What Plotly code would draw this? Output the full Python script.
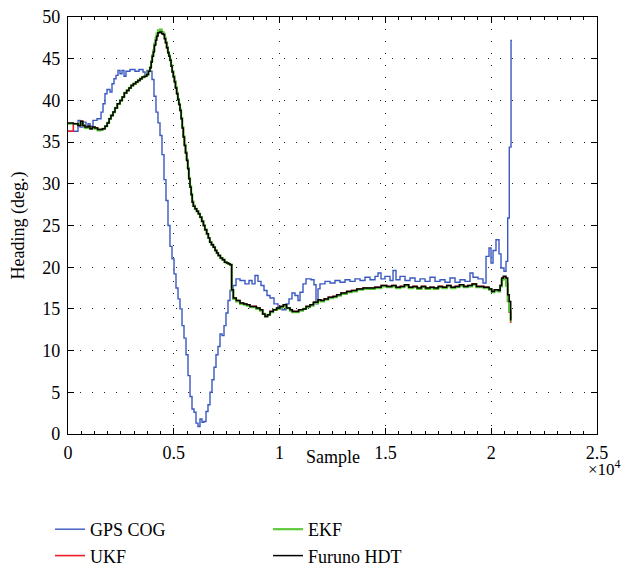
import plotly.graph_objects as go

# ---------------- data ----------------
gps_samples = [0, 473, 567, 709, 851, 945, 1040, 1182, 1371, 1560, 1654, 1749, 1843, 1985, 2080, 2174,
               2268, 2363, 2457, 2552, 2647, 2741, 2930, 3166, 3355, 3545, 3639, 3734, 3875, 3970, 4064,
               4159, 4253, 4348, 4442, 4537, 4631, 4726, 4820, 4915, 5010, 5104, 5199, 5293, 5388, 5482,
               5577, 5671, 5766, 5860, 5955, 6049, 6144, 6238, 6333, 6427, 6522, 6616, 6711, 6805, 6900,
               6994, 7089, 7184, 7278, 7373, 7467, 7562, 7656, 7798, 7940, 8129, 8365, 8554, 8696, 8838,
               8979, 9121, 9263, 9405, 9547, 9736, 9925, 10114, 10303, 10444, 10586, 10728, 10870, 10964,
               11106, 11248, 11484, 11626, 11720, 11815, 11909, 12146, 12382, 12618, 12855, 13091, 13327,
               13564, 13800, 14036, 14273, 14509, 14651, 14792, 14981, 15218, 15360, 15501, 15690, 15927,
               16163, 16400, 16636, 16872, 17108, 17345, 17581, 17817, 18053, 18290, 18526, 18762, 18999,
               19140, 19377, 19613, 19755, 19897, 19991, 20086, 20227, 20369, 20464, 20605, 20700, 20780,
               20855, 20937, 20983]
gps_cog = [36.3, 37.6, 36.8, 37.4, 36.7, 37.2, 36.9, 37.6, 37.8, 38.6, 39.6, 40.8, 41.3, 41.0, 42.0, 42.6,
           43.0, 43.6, 43.2, 43.6, 42.9, 43.5, 43.7, 43.5, 43.7, 43.4, 43.0, 43.6, 43.5, 42.5, 40.5,
           38.6, 37.3, 35.8, 33.5, 30.5, 28.0, 25.0, 22.5, 21.0, 19.2, 17.5, 16.2, 15.0, 13.0, 11.5,
           9.5, 7.0, 4.5, 3.0, 2.6, 1.3, 0.9, 1.8, 1.4, 1.5, 2.7, 3.5, 5.0, 6.5, 8.0,
           9.5, 10.5, 12.0, 11.8, 13.0, 14.5, 16.0, 17.2, 17.8, 18.6, 18.4, 18.0, 18.4, 18.0, 19.0,
           18.3, 17.8, 17.2, 16.6, 16.3, 15.6, 15.2, 14.9, 15.6, 16.2, 16.9, 16.6, 16.0, 17.0,
           18.0, 18.6, 18.5, 17.9, 15.6, 17.4, 18.0, 18.3, 18.1, 18.4, 18.2, 18.5, 18.3,
           18.6, 18.4, 18.8, 18.5, 18.9, 19.3, 18.6, 18.9, 18.4, 19.6, 18.5, 18.9, 18.4,
           18.7, 18.3, 18.6, 18.3, 18.8, 18.3, 18.5, 18.2, 18.7, 18.2, 18.5, 18.3, 19.3,
           18.8, 18.6, 18.1, 21.3, 22.3, 20.5, 22.0, 23.3, 21.6, 19.9, 19.5, 20.7, 25.9,
           34.4, 47.2, 47.2]

filt_samples = [0, 250, 473, 600, 700, 803, 950, 1040, 1150, 1276, 1400, 1512, 1630, 1749, 1850, 1940,
                2030, 2127, 2220, 2330, 2457, 2560, 2660, 2773, 2880, 2980, 3088, 3200, 3300, 3403, 3500,
                3618, 3718, 3800, 3875, 3930, 3980, 4033, 4080, 4140, 4190, 4250, 4348, 4430, 4505, 4560,
                4610, 4663, 4720, 4770, 4820, 4870, 4920, 4978, 5030, 5080, 5136, 5190, 5240, 5293, 5345,
                5400, 5450, 5500, 5555, 5608, 5660, 5710, 5766, 5820, 5870, 5923, 6000, 6080, 6160, 6238,
                6320, 6400, 6470, 6553, 6630, 6700, 6780, 6868, 6950, 7026, 7100, 7200, 7300, 7400, 7498,
                7580, 7656, 7735, 7813, 7950, 8129, 8300, 8450, 8600, 8757, 8900, 9074, 9200, 9310, 9430,
                9547, 9700, 9863, 10020, 10177, 10330, 10492, 10600, 10728, 10900, 11106, 11250, 11437,
                11600, 11815, 11950, 12100, 12300, 12524, 12700, 12900, 13171, 13400, 13650, 13942, 14200,
                14500, 14800, 15062, 15300, 15500, 15700, 15900, 16100, 16300, 16500, 16700, 16900, 17100,
                17300, 17500, 17700, 17900, 18100, 18300, 18500, 18700, 18900, 19100, 19300, 19471, 19650,
                19787, 19900, 20024, 20150, 20336, 20420, 20496, 20572, 20700, 20780, 20850, 20922, 20950]

furuno_hdt = [37.3, 37.2, 37.0, 37.5, 37.0, 36.8, 36.9, 36.6, 36.8, 36.7, 36.5, 36.5, 36.6, 36.9, 37.3, 37.8,
              38.2, 38.6, 39.1, 39.6, 40.0, 40.4, 40.9, 41.2, 41.5, 41.8, 42.0, 42.2, 42.4, 42.6, 42.8,
              42.9, 43.1, 43.5, 43.9, 44.6, 45.3, 45.8, 46.6, 47.2, 47.7, 48.1, 48.2, 48.0, 47.9, 47.4,
              46.9, 46.3, 45.7, 45.3, 44.8, 44.1, 43.4, 42.8, 42.2, 41.5, 40.8, 40.1, 39.5, 38.8, 37.8,
              36.7, 35.6, 34.6, 33.7, 32.8, 31.8, 30.6, 29.6, 28.7, 27.8, 27.3, 27.0, 26.7, 26.4, 26.0,
              25.5, 25.0, 24.5, 24.0, 23.5, 23.0, 22.7, 22.4, 22.0, 21.7, 21.4, 21.1, 20.9, 20.6, 20.5,
              20.4, 20.3, 17.3, 16.3, 16.0, 15.7, 15.6, 15.5, 15.3, 15.3, 15.1, 14.9, 14.4, 14.1, 14.3,
              14.7, 14.9, 15.1, 15.3, 15.5, 15.1, 14.9, 14.7, 14.7, 14.9, 15.0, 15.3, 15.5,
              15.8, 16.1, 16.0, 16.2, 16.4, 16.5, 16.7, 16.9, 17.1, 17.2, 17.4, 17.5, 17.5,
              17.6, 17.8, 17.7, 17.8, 17.6, 17.7, 17.9, 17.6, 17.7, 17.5, 17.7, 17.5, 17.6,
              17.5, 17.7, 17.6, 17.8, 17.6, 17.7, 17.9, 17.7, 17.8, 18.0, 17.7, 17.7, 17.6,
              17.6, 17.4, 17.1, 17.3, 17.2, 17.8, 18.7, 18.9, 18.7, 16.7, 15.9, 13.7, 13.7]

ekf = [37.2, 37.2, 37.1, 37.4, 37.0, 36.7, 36.8, 36.6, 36.7, 36.6, 36.4, 36.5, 36.6, 36.9, 37.3, 37.8,
       38.2, 38.6, 39.1, 39.6, 40.0, 40.4, 40.9, 41.2, 41.5, 41.8, 42.0, 42.2, 42.4, 42.6, 42.8,
       42.9, 43.1, 43.5, 44.0, 44.7, 45.4, 46.0, 46.8, 47.5, 48.0, 48.4, 48.5, 48.2, 48.0, 47.5,
       47.0, 46.4, 45.8, 45.4, 44.9, 44.2, 43.5, 42.9, 42.3, 41.6, 40.9, 40.2, 39.6, 38.9, 37.9,
       36.8, 35.7, 34.7, 33.8, 32.9, 31.9, 30.7, 29.7, 28.8, 27.9, 27.4, 27.0, 26.7, 26.4, 26.0,
       25.5, 25.0, 24.5, 24.0, 23.5, 23.0, 22.7, 22.4, 22.0, 21.7, 21.4, 21.1, 20.9, 20.6, 20.5,
       20.4, 20.3, 17.2, 16.2, 15.9, 15.6, 15.5, 15.4, 15.2, 15.2, 15.0, 14.8, 14.4, 14.1, 14.3,
       14.6, 14.9, 15.0, 15.2, 15.4, 15.1, 14.8, 14.6, 14.6, 14.8, 15.0, 15.2, 15.4,
       15.7, 16.0, 15.9, 16.1, 16.3, 16.4, 16.6, 16.8, 17.0, 17.1, 17.3, 17.4, 17.4,
       17.5, 17.7, 17.6, 17.7, 17.5, 17.6, 17.8, 17.5, 17.6, 17.4, 17.6, 17.4, 17.5,
       17.4, 17.6, 17.5, 17.7, 17.5, 17.6, 17.8, 17.6, 17.7, 17.9, 17.6, 17.6, 17.5,
       17.5, 17.3, 17.0, 17.2, 17.1, 17.7, 18.5, 18.6, 17.8, 16.0, 14.8, 13.6, 13.6]

ukf = [36.3, 37.2, 37.0, 37.5, 37.0, 36.8, 36.9, 36.6, 36.8, 36.7, 36.5, 36.5, 36.6, 36.9, 37.3, 37.8,
       38.2, 38.6, 39.1, 39.6, 40.0, 40.4, 40.9, 41.2, 41.5, 41.8, 42.0, 42.2, 42.4, 42.6, 42.8,
       42.9, 43.1, 43.5, 43.9, 44.6, 45.3, 45.9, 46.7, 47.3, 47.8, 48.2, 48.3, 48.1, 47.9, 47.4,
       46.9, 46.3, 45.7, 45.3, 44.8, 44.1, 43.4, 42.8, 42.2, 41.5, 40.8, 40.1, 39.5, 38.8, 37.8,
       36.7, 35.6, 34.6, 33.7, 32.8, 31.8, 30.6, 29.6, 28.7, 27.8, 27.3, 27.0, 26.7, 26.4, 26.0,
       25.5, 25.0, 24.5, 24.0, 23.5, 23.0, 22.7, 22.4, 22.0, 21.7, 21.4, 21.1, 20.9, 20.6, 20.5,
       20.4, 20.3, 17.3, 16.3, 16.0, 15.7, 15.6, 15.5, 15.3, 15.3, 15.1, 14.9, 14.4, 14.1, 14.3,
       14.7, 14.9, 15.1, 15.3, 15.5, 15.1, 14.9, 14.7, 14.7, 14.9, 15.0, 15.3, 15.5,
       15.8, 16.1, 16.0, 16.2, 16.4, 16.5, 16.7, 16.9, 17.1, 17.2, 17.4, 17.5, 17.5,
       17.6, 17.8, 17.7, 17.8, 17.6, 17.7, 17.9, 17.6, 17.7, 17.5, 17.7, 17.5, 17.6,
       17.5, 17.7, 17.6, 17.8, 17.6, 17.7, 17.9, 17.7, 17.8, 18.0, 17.7, 17.7, 17.6,
       17.6, 17.4, 17.1, 17.3, 17.2, 17.8, 18.6, 18.8, 18.0, 15.9, 14.6, 13.4, 13.4]

x_tick_vals = [0, 5000, 10000, 15000, 20000, 25000]
x_tick_text = ["0", "0.5", "1", "1.5", "2", "2.5"]
y_tick_vals = [0, 5, 10, 15, 20, 25, 30, 35, 40, 45, 50]

# ---------------- figure ----------------
FONT = "Liberation Serif"
# the page body adds an 8px offset, so the figure is 8px smaller than the window on each axis
W, H = 623, 561
ML, MR, MT, MB = 60, 34, 9, 135

fig = go.Figure()
fig.add_trace(go.Scatter(x=gps_samples, y=gps_cog, mode="lines", line_shape="hv", name="GPS COG",
                         line=dict(color="#3A58C2", width=1.4), legendrank=1))
fig.add_trace(go.Scatter(x=filt_samples, y=ukf, mode="lines", line_shape="hv", name="UKF",
                         line=dict(color="#EE1C24", width=1.6), legendrank=3))
fig.add_trace(go.Scatter(x=filt_samples, y=ekf, mode="lines", line_shape="hv", name="EKF",
                         line=dict(color="#5CC83A", width=2.2), legendrank=2))
fig.add_trace(go.Scatter(x=filt_samples, y=furuno_hdt, mode="lines", line_shape="hv", name="Furuno HDT",
                         line=dict(color="#000000", width=1.5), legendrank=4))

grid_common = dict(gridcolor="#222222", gridwidth=1, griddash="1px,11px")

fig.update_xaxes(range=[0, 25000], tickvals=x_tick_vals, ticktext=x_tick_text, automargin=False,
                 showline=True, linecolor="black", linewidth=1.2, mirror="ticks",
                 ticks="inside", ticklen=6, tickcolor="black", ticklabelstandoff=2,
                 ticklabeloverflow="allow",
                 minor=dict(dtick=625, ticks="inside", ticklen=3, tickcolor="black", showgrid=False),
                 showgrid=True, zeroline=False,
                 tickfont=dict(family=FONT, size=18, color="black"), **grid_common)
fig.update_yaxes(range=[0, 50], tickvals=y_tick_vals, automargin=False,
                 showline=True, linecolor="black", linewidth=1.2, mirror="ticks",
                 ticks="inside", ticklen=6, tickcolor="black", ticklabelstandoff=3,
                 ticklabeloverflow="allow",
                 showgrid=True, zeroline=False,
                 title=dict(text="Heading (deg.)", font=dict(family=FONT, size=18, color="black"), standoff=22),
                 tickfont=dict(family=FONT, size=18, color="black"), **grid_common)

# x-axis title placed just under the tick labels, as in the reference
fig.add_annotation(text="Sample", xref="paper", yref="paper", x=0.5, y=-0.055,
                   xanchor="center", yanchor="middle", showarrow=False,
                   font=dict(family=FONT, size=18, color="black"))
fig.add_annotation(text="×10<sup>4</sup>", xref="paper", yref="paper", x=1.05, y=-0.05,
                   xanchor="right", yanchor="top", showarrow=False,
                   font=dict(family=FONT, size=17, color="black"))

fig.update_layout(
    width=W, height=H,
    margin=dict(l=ML, r=MR, t=MT, b=MB),
    paper_bgcolor="white", plot_bgcolor="white",
    showlegend=True,
    legend=dict(orientation="h", xref="container", yref="container", x=0.0674, y=0.1034,
                xanchor="left", yanchor="top",
                entrywidth=173, font=dict(family=FONT, size=18, color="black"),
                bgcolor="rgba(0,0,0,0)", tracegroupgap=0, itemwidth=30),
)

fig.write_html("out.html")
